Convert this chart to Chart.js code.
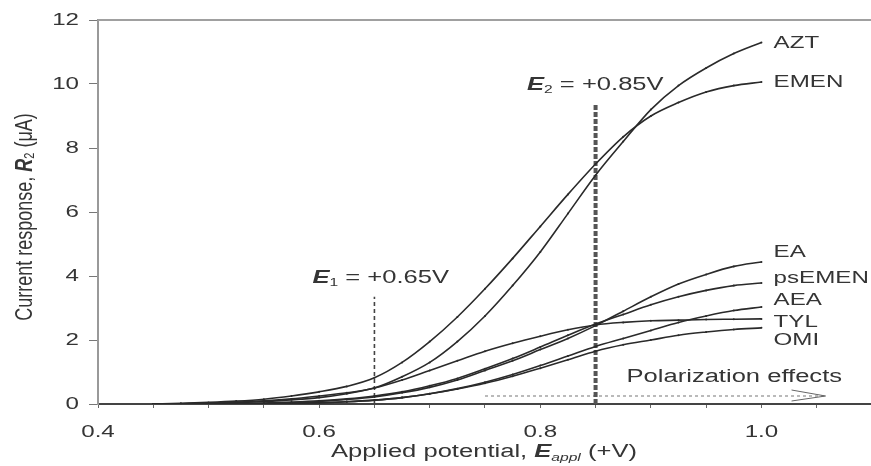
<!DOCTYPE html>
<html>
<head>
<meta charset="utf-8">
<script src="https://cdn.jsdelivr.net/npm/chart.js@4.4.1/dist/chart.umd.min.js"></script>
<style>
  html, body { margin: 0; padding: 0; background: #fff; overflow: hidden; }
  #wrap { width: 876px; height: 466px; }
</style>
</head>
<body>
<div id="wrap"><canvas id="chart" width="876" height="466"></canvas></div>
<script>
// ===== 데이터 =====
const potentials = [0.45, 0.475, 0.5, 0.525, 0.55, 0.575, 0.6, 0.625, 0.65, 0.675, 0.7, 0.725,
                    0.75, 0.775, 0.8, 0.825, 0.85, 0.875, 0.9, 0.925, 0.95, 0.975, 1.0];

const aztValues    = [0, 0.01, 0.03, 0.06, 0.1, 0.16, 0.25, 0.35, 0.5, 0.85, 1.3, 1.95, 2.75, 3.7, 4.75, 5.95, 7.15, 8.2, 9.2, 9.95, 10.5, 10.95, 11.3];
const emenValues   = [0, 0.02, 0.05, 0.09, 0.15, 0.25, 0.38, 0.55, 0.82, 1.3, 1.95, 2.72, 3.6, 4.55, 5.55, 6.55, 7.5, 8.35, 9.0, 9.42, 9.75, 9.95, 10.06];
const eaValues     = [0, 0, 0, 0.01, 0.02, 0.04, 0.08, 0.14, 0.22, 0.35, 0.52, 0.75, 1.05, 1.35, 1.7, 2.05, 2.45, 2.9, 3.35, 3.75, 4.05, 4.3, 4.44];
const psemenValues = [0, 0, 0.01, 0.02, 0.03, 0.06, 0.1, 0.16, 0.25, 0.38, 0.57, 0.8, 1.1, 1.42, 1.78, 2.15, 2.5, 2.8, 3.1, 3.35, 3.55, 3.7, 3.78];
const aeaValues    = [0, 0, 0, 0, 0.01, 0.02, 0.04, 0.07, 0.12, 0.2, 0.32, 0.48, 0.68, 0.92, 1.2, 1.5, 1.8, 2.05, 2.3, 2.55, 2.75, 2.92, 3.03];
const tylValues    = [0, 0.01, 0.02, 0.04, 0.08, 0.13, 0.2, 0.32, 0.5, 0.75, 1.05, 1.35, 1.65, 1.9, 2.12, 2.32, 2.47, 2.55, 2.6, 2.62, 2.64, 2.65, 2.66];
const omiValues    = [0, 0, 0, 0, 0.01, 0.02, 0.04, 0.07, 0.12, 0.2, 0.32, 0.47, 0.65, 0.87, 1.12, 1.38, 1.65, 1.85, 2.0, 2.15, 2.25, 2.33, 2.38];

const seriesNames  = ['AZT', 'EMEN', 'EA', 'psEMEN', 'AEA', 'TYL', 'OMI'];
const seriesValues = [aztValues, emenValues, eaValues, psemenValues, aeaValues, tylValues, omiValues];

// 축 눈금
const xTickValues  = [0.4, 0.45, 0.5, 0.55, 0.6, 0.65, 0.7, 0.75, 0.8, 0.85, 0.9, 0.95, 1.0, 1.05];
const xTickLabels  = ['0.4', '0.6', '0.8', '1.0'];
const yTickValues  = [0, 2, 4, 6, 8, 10, 12];

// 전위 표시선
const e1Potential = 0.65;
const e1LineTop   = 3.35;
const e2Potential = 0.85;
const e2LineTop   = 9.35;
const polarizationStart = 0.75;
const polarizationEnd   = 1.058;
const polarizationLevel = 0.25;

// ===== 배치 / 스타일 =====
const FONT = '"Liberation Sans", Arial, sans-serif';
const TEXT_COLOR = '#353535';
const LINE_COLOR = '#2a2a2a';
const SX = 1.42; // 원본 그림은 가로로 늘어나 있음

const seriesLabelAnchors = { x: 1.011, y: [11.28, 10.06, 4.75, 3.94, 3.25, 2.56, 2.0] };
const e1LabelAnchor = { x: 0.594, y: 3.94 };
const e2LabelAnchor = { x: 0.788, y: 9.97 };
const polarizationLabelAnchor = { x: 0.878, y: 0.84 };

// 여러 글꼴 조각을 이어서 그림 (가로 늘림 포함)
function drawParts(ctx, parts, x, y, align, sx, sy) {
    sx = sx || SX;
    sy = sy || 1;
    let total = 0;
    parts.forEach(p => {
        ctx.font = p.font;
        p.w = ctx.measureText(p.text).width * sx;
        total += p.w;
    });
    let cx = x;
    if (align === 'center') cx = x - total / 2;
    if (align === 'right') cx = x - total;
    parts.forEach(p => {
        ctx.save();
        ctx.font = p.font;
        ctx.translate(cx, y + (p.dy || 0));
        ctx.scale(sx, sy);
        ctx.fillText(p.text, 0, 0);
        ctx.restore();
        cx += p.w;
    });
}

const textPlugin = {
    id: 'figureText',
    afterDraw(chart) {
        const ctx = chart.ctx;
        const xs = chart.scales.x;
        const ys = chart.scales.y;
        const area = chart.chartArea;

        ctx.save();
        ctx.fillStyle = TEXT_COLOR;
        ctx.textBaseline = 'middle';
        ctx.textAlign = 'left';

        // 상단 테두리
        ctx.strokeStyle = '#a0a0a0';
        ctx.lineWidth = 2;
        ctx.beginPath();
        ctx.moveTo(area.left, area.top);
        ctx.lineTo(area.right, area.top);
        ctx.stroke();

        // x 눈금 라벨
        xTickLabels.forEach(t => {
            drawParts(ctx, [{ text: t, font: '17px ' + FONT }], xs.getPixelForValue(parseFloat(t)), area.bottom + 28, 'center');
        });
        // y 눈금 라벨
        yTickValues.forEach(v => {
            drawParts(ctx, [{ text: String(v), font: '17px ' + FONT }], area.left - 19, ys.getPixelForValue(v), 'right');
        });

        // 시리즈 이름
        seriesNames.forEach((name, i) => {
            drawParts(ctx, [{ text: name, font: '17px ' + FONT }],
                xs.getPixelForValue(seriesLabelAnchors.x), ys.getPixelForValue(seriesLabelAnchors.y[i]), 'left');
        });

        // E1, E2 라벨
        const eLabel = (sub, value) => [
            { text: 'E', font: 'italic bold 18px ' + FONT },
            { text: sub, font: '11px ' + FONT, dy: 5 },
            { text: ' = +' + value + 'V', font: '18px ' + FONT }
        ];
        drawParts(ctx, eLabel('1', '0.65'), xs.getPixelForValue(e1LabelAnchor.x), ys.getPixelForValue(e1LabelAnchor.y), 'left');
        drawParts(ctx, eLabel('2', '0.85'), xs.getPixelForValue(e2LabelAnchor.x), ys.getPixelForValue(e2LabelAnchor.y), 'left');

        // 분극 효과 라벨 + 화살촉
        drawParts(ctx, [{ text: 'Polarization effects', font: '18px ' + FONT }],
            xs.getPixelForValue(polarizationLabelAnchor.x), ys.getPixelForValue(polarizationLabelAnchor.y), 'left');
        const tipX = xs.getPixelForValue(polarizationEnd);
        const tipY = ys.getPixelForValue(polarizationLevel);
        ctx.strokeStyle = '#666';
        ctx.lineWidth = 1;
        ctx.beginPath();
        ctx.moveTo(tipX - 34, tipY - 6);
        ctx.lineTo(tipX, tipY);
        ctx.lineTo(tipX - 34, tipY + 5);
        ctx.stroke();

        // x 축 제목
        drawParts(ctx, [
            { text: 'Applied potential, ', font: '18px ' + FONT },
            { text: 'E', font: 'italic bold 18px ' + FONT },
            { text: 'appl', font: 'italic 11px ' + FONT, dy: 6 },
            { text: ' (+V)', font: '18px ' + FONT }
        ], 484, 452, 'center');

        // y 축 제목 (회전)
        ctx.save();
        ctx.translate(25, 217);
        ctx.rotate(-Math.PI / 2);
        drawParts(ctx, [
            { text: 'Current response, ', font: '18px ' + FONT },
            { text: 'R', font: 'italic bold 18px ' + FONT },
            { text: '2', font: '11px ' + FONT, dy: 5 },
            { text: ' (\u03bcA)', font: '18px ' + FONT }
        ], 0, 0, 'center', 1, 1.35);
        ctx.restore();

        ctx.restore();
    }
};

// 곡선 데이터셋
const curveDatasets = seriesNames.map((name, i) => ({
    label: name,
    data: potentials.map((p, j) => ({ x: p, y: seriesValues[i][j] })),
    borderColor: LINE_COLOR,
    backgroundColor: LINE_COLOR,
    borderWidth: 1.6,
    pointRadius: 1,
    pointBorderWidth: 0,
    cubicInterpolationMode: 'monotone',
    fill: false
}));

// 표시선 데이터셋
const markerDatasets = [
    {
        label: 'E1',
        data: [{ x: e1Potential, y: 0 }, { x: e1Potential, y: e1LineTop }],
        borderColor: '#444', borderWidth: 1.6, borderDash: [4, 3], pointRadius: 0
    },
    {
        label: 'E2',
        data: [{ x: e2Potential, y: 0 }, { x: e2Potential, y: e2LineTop }],
        borderColor: '#555', borderWidth: 4, borderDash: [5, 2], pointRadius: 0
    },
    {
        label: 'polarization',
        data: [{ x: polarizationStart, y: polarizationLevel }, { x: polarizationEnd, y: polarizationLevel }],
        borderColor: '#777', borderWidth: 1, borderDash: [3, 3], pointRadius: 0
    }
];

const chart = new Chart(document.getElementById('chart'), {
    type: 'line',
    data: { datasets: curveDatasets.concat(markerDatasets) },
    options: {
        responsive: false,
        animation: false,
        layout: { padding: { top: 20, right: 2, left: 0, bottom: 0 } },
        plugins: { legend: { display: false }, tooltip: { enabled: false } },
        scales: {
            x: {
                type: 'linear',
                min: 0.4,
                max: 1.1,
                afterBuildTicks: scale => { scale.ticks = xTickValues.map(v => ({ value: v })); },
                afterFit: scale => { scale.height = 62; },
                ticks: { display: false },
                grid: { drawOnChartArea: false, drawTicks: true, tickLength: 4, color: '#666' },
                border: { display: true, color: '#444', width: 2 }
            },
            y: {
                type: 'linear',
                min: 0,
                max: 12,
                afterBuildTicks: scale => { scale.ticks = yTickValues.map(v => ({ value: v })); },
                afterFit: scale => { scale.width = 98; },
                ticks: { display: false },
                grid: { drawOnChartArea: false, drawTicks: true, tickLength: 9, color: '#777' },
                border: { display: true, color: '#999', width: 2 }
            }
        }
    },
    plugins: [textPlugin]
});

console.log('chart ready', chart.chartArea);
</script>
</body>
</html>
